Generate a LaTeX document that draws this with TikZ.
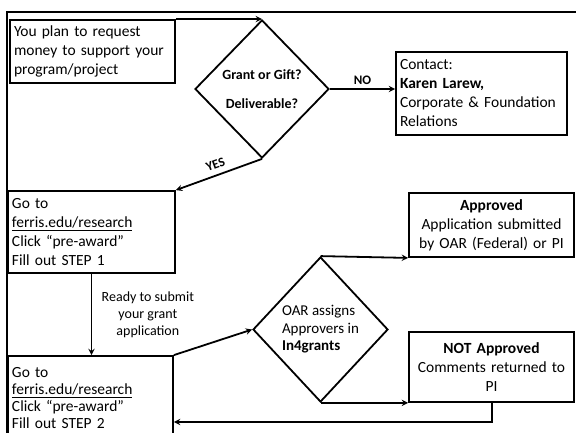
\documentclass[tikz,border=0pt]{standalone}
\usepackage{amsmath, fontspec}
\setmainfont{Carlito}
\usetikzlibrary{shapes.geometric}
\tikzset{>=stealth,
  box/.style={draw, line width=1.8pt, inner xsep=4pt, inner ysep=2pt, align=left, font=\fontsize{15.5}{19}\selectfont},
  cbox/.style={box, align=center},
  choice/.style={draw, diamond, line width=1.8pt, inner sep=0pt},
  flow/.style={->, line width=1.8pt},
  tag/.style={font=\bfseries\fontsize{13}{15}\selectfont}
}

\begin{document}
\begin{tikzpicture}[x=1pt, y=-1pt]
    \clip (0,0) rectangle (576,433);
    \draw[line width=1.8pt] (7,433) -- (7,12) -- (576,12);
    \node[box, text width=157pt, minimum width=165pt, minimum height=63pt] (plan) at (92.5,51.5) {You plan to request\\money to support your\\program/project};
    \node[choice, minimum width=134pt, minimum height=138pt, align=center, font=\bfseries\fontsize{14}{17}\selectfont] (gift) at (262,89) {Grant or Gift?\\[12pt]Deliverable?};
    \node[box, text width=163pt, minimum width=171pt, minimum height=83pt] (contact) at (481.5,93.5) {Contact:\\\textbf{Karen Larew,}\\Corporate \& Foundation\\Relations};
    \node[box, text width=159pt, minimum width=167pt, minimum height=82pt] (stepone) at (91.5,232) {Go to\\\underline{ferris.edu/research}\\Click “pre-award”\\Fill out STEP 1};
    \node[box, text width=157pt, minimum width=165pt, minimum height=84pt, font=\fontsize{15.5}{17}\selectfont] (steptwo) at (90.5,398) {Go to\\\underline{ferris.edu/research}\\Click “pre-award”\\Fill out STEP 2};
    \node[choice, minimum width=135pt, minimum height=145pt, align=left, font=\fontsize{15}{17.5}\selectfont] (assign) at (320.5,329.5) {OAR assigns\\Approvers in\\\textbf{In4grants}};
    \node[cbox, text width=157pt, minimum width=165pt, minimum height=64pt] (approved) at (491.5,225) {\textbf{Approved}\\Application submitted\\by OAR (Federal) or PI};
    \node[cbox, text width=157pt, minimum width=165pt, minimum height=70pt] (rejected) at (491.5,367) {\textbf{NOT Approved}\\Comments returned to\\PI};
    \coordinate (back) at (492,422);
    \draw[flow] (plan.north east) -- (gift.north);
    \draw[flow] (gift.east) -- node[tag, above] {NO} (contact.west |- gift.east);
    \draw[flow] (gift.south) -- node[tag, above=2pt, sloped] {YES} (stepone.north east);
    \draw[flow] (stepone.south) -- node[right, xshift=6pt, align=center, font=\fontsize{14}{17}\selectfont] {Ready to submit\\your grant\\application} (steptwo.north -| stepone.south);
    \draw[flow] (steptwo.north east) -- (assign.west);
    \draw[flow] (assign.north) -- (approved.south west);
    \draw[flow] (assign.south) -- (rejected.south west);
    \draw[flow] (rejected.south -| back) -- (back) -- (steptwo.east |- back);
\end{tikzpicture}
\end{document}
